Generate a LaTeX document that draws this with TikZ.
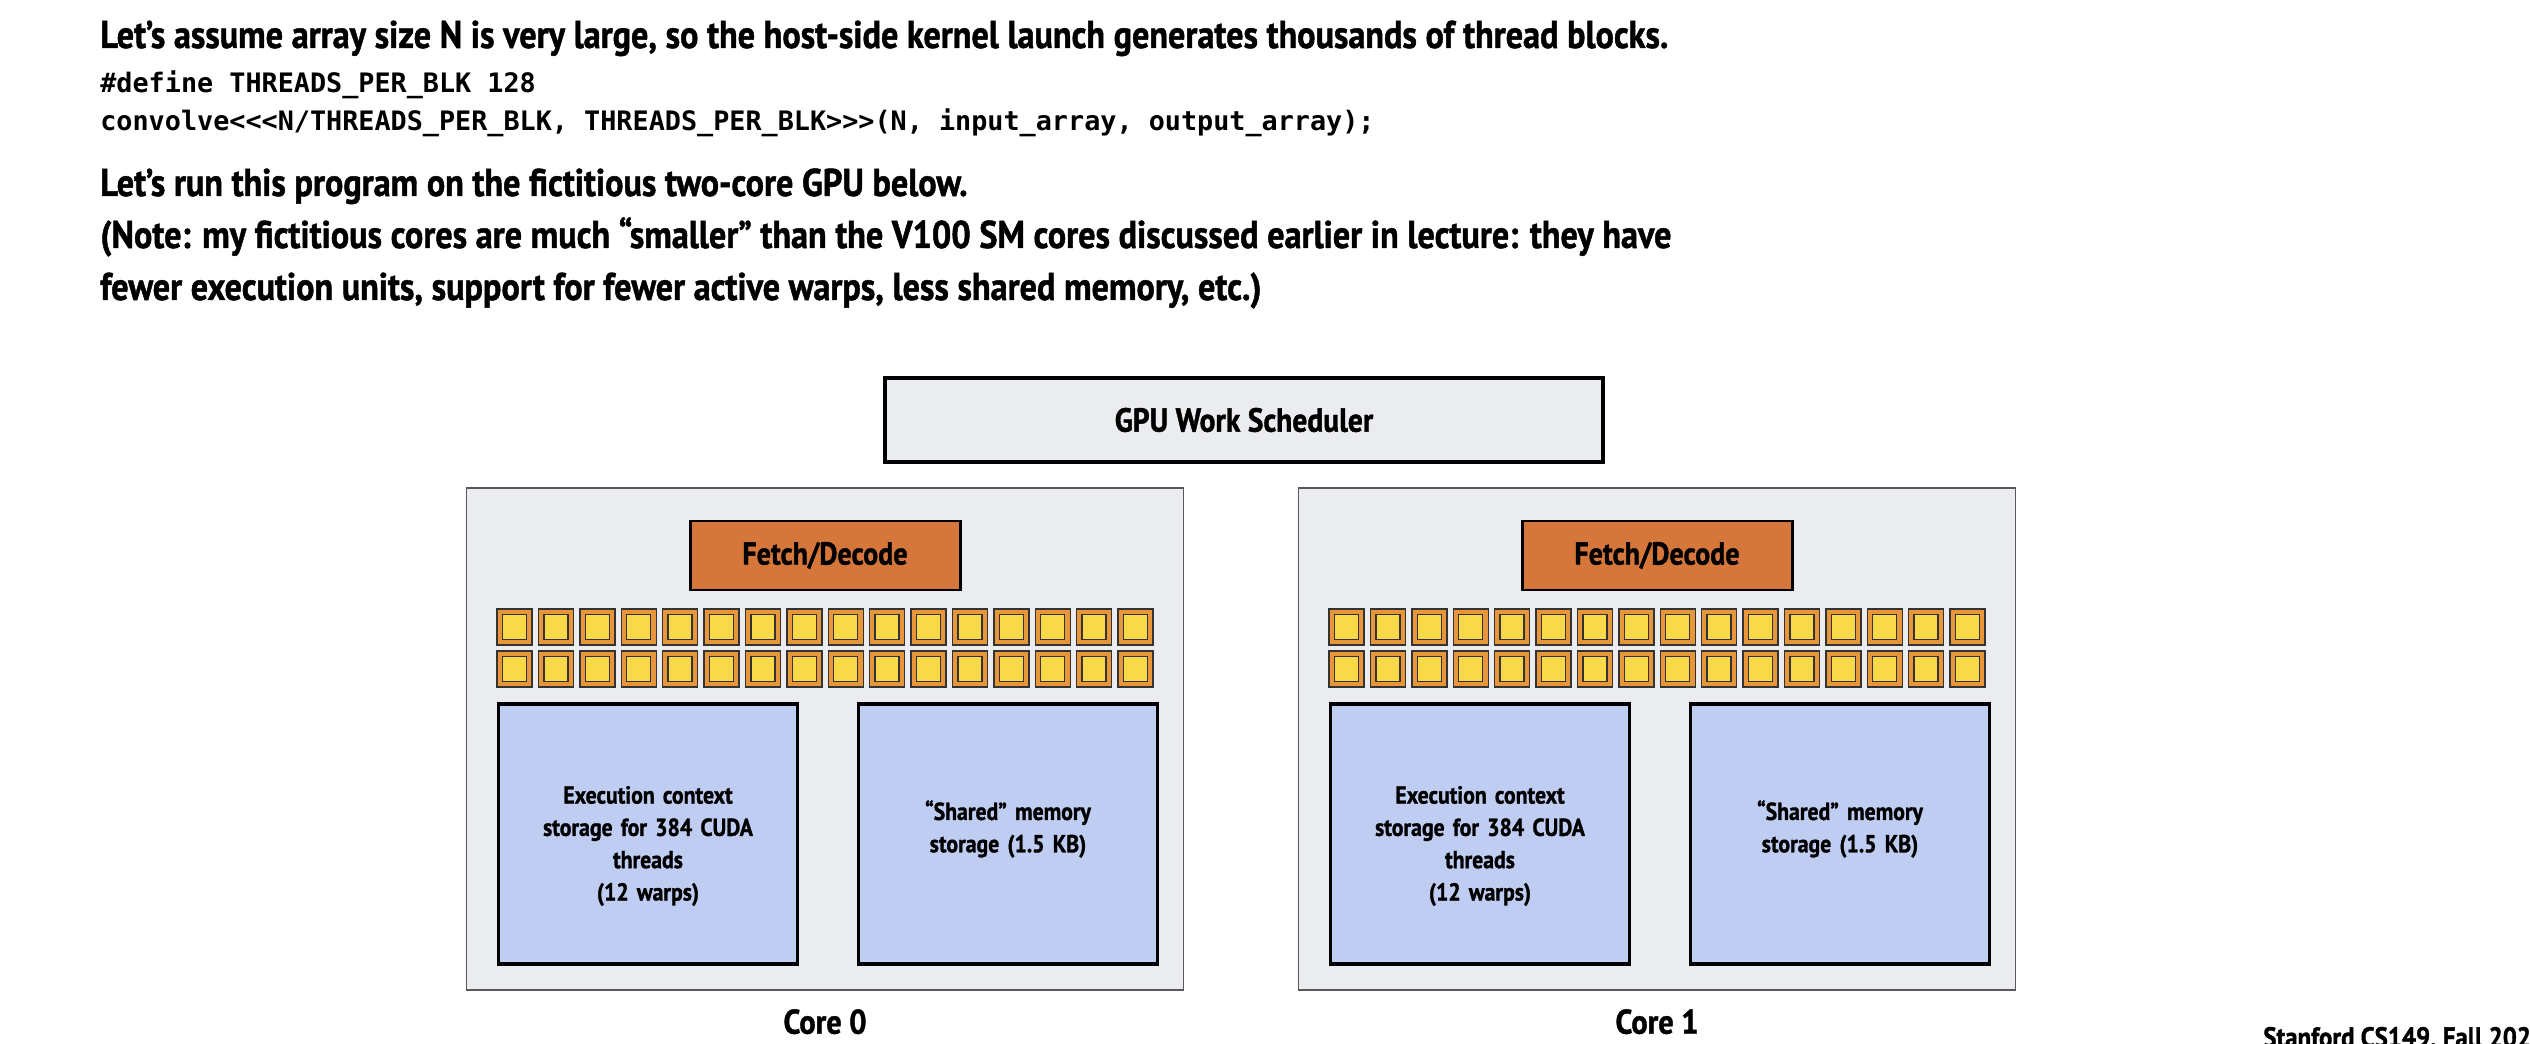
\documentclass[tikz,border=0pt]{standalone}
\usepackage{fontspec}
\setmainfont{PT Sans}[FakeStretch=0.885,BoldFeatures={FakeBold=1.2}]
\setmonofont{DejaVu Sans Mono}
\definecolor{panel}{RGB}{235,236,240}
\definecolor{fetchor}{RGB}{213,119,58}
\definecolor{aluor}{RGB}{232,150,58}
\definecolor{aluyel}{RGB}{249,216,74}
\definecolor{memblue}{RGB}{191,205,242}
\begin{document}
\begin{tikzpicture}[x=0.02cm,y=-0.02cm,
  txt/.style={anchor=base west,inner sep=0,font=\fontsize{22}{26}\selectfont\bfseries},
  code/.style={anchor=base west,inner sep=0,font=\fontsize{15.25}{18}\selectfont\ttfamily\bfseries},
  sched/.style={draw=black,line width=2.2pt,fill=panel,minimum width=718*\px,minimum height=84*\px,font=\fontsize{19}{22}\selectfont\bfseries},
  core/.style={draw=black!65,line width=1.1pt,fill=panel,minimum width=717*\px,minimum height=502*\px},
  fetch/.style={draw=black,line width=1.7pt,fill=fetchor,minimum width=270*\px,minimum height=69*\px,font=\fontsize{18}{22}\selectfont\bfseries},
  alu/.style={draw=black!80,line width=0.8pt,fill=aluor,minimum width=35*\px,minimum height=36*\px,inner sep=0},
  aluin/.style={draw=black!80,line width=0.8pt,fill=aluyel,minimum width=24*\px,minimum height=25*\px,inner sep=0},
  mem/.style={draw=black,line width=2pt,fill=memblue,minimum width=299*\px,minimum height=260*\px},
  memtxt/.style={text width=280*\px,align=center,inner sep=0,font=\fontsize{14}{18.4}\selectfont\bfseries},
  lbl/.style={anchor=north,inner sep=0,yshift=-10.2pt,font=\fontsize{19.5}{22}\selectfont\bfseries}]
\def\px{0.02cm}
\useasboundingbox (0,0) rectangle (2530,1044);

\node[txt] (t1) at (100,48) {Let’s assume array size N is very large, so the host-side kernel launch generates thousands of thread blocks.};
\node[code] (c1) at (100,93) {\#define THREADS\_PER\_BLK 128};
\node[code] (c2) at (100,131) {convolve<{}<{}<N/THREADS\_PER\_BLK, THREADS\_PER\_BLK>{}>{}>(N, input\_array, output\_array);};
\node[txt] (t2) at (100,196) {Let’s run this program on the fictitious two-core GPU below.};
\node[txt] (t3) at (100,248) {(Note: my fictitious cores are much “smaller” than the V100 SM cores discussed earlier in lecture: they have};
\node[txt] (t4) at (100,300) {fewer execution units, support for fewer active warps, less shared memory, etc.)};

\node[sched] (gws) at (1244,420) {GPU Work Scheduler};

\foreach \c/\cx in {0/825,1/1657} {
  \node[core] (core\c) at (\cx,739) {};
  \node[fetch] (fd\c) at (\cx,555.5) {Fetch/Decode};
  \foreach \r/\ry in {0/627,1/669}
    \foreach \i in {0,...,15} {
      \node[alu] (alu\c-\r-\i) at ({\cx+(\i-7.5)*41.4},\ry) {};
      \node[aluin] (alui\c-\r-\i) at (alu\c-\r-\i) {};
    }
  \node[mem] (ctx\c) at ({\cx-177},834) {};
  \node[mem] (smem\c) at ({\cx+183},834) {};
  \node[memtxt] (ctxt\c) at ({\cx-177},846) {Execution context\\storage for 384 CUDA\\threads\\(12 warps)};
  \node[memtxt] (smemt\c) at ({\cx+183},829) {“Shared” memory\\storage (1.5 KB)};
  \node[lbl] (name\c) at (core\c.south) {Core \c};
}

\node[anchor=base west,inner sep=0,font=\fontsize{16}{19}\selectfont\bfseries] (foot) at (2263,1047) {Stanford CS149, Fall 2023};
\end{tikzpicture}
\end{document}
